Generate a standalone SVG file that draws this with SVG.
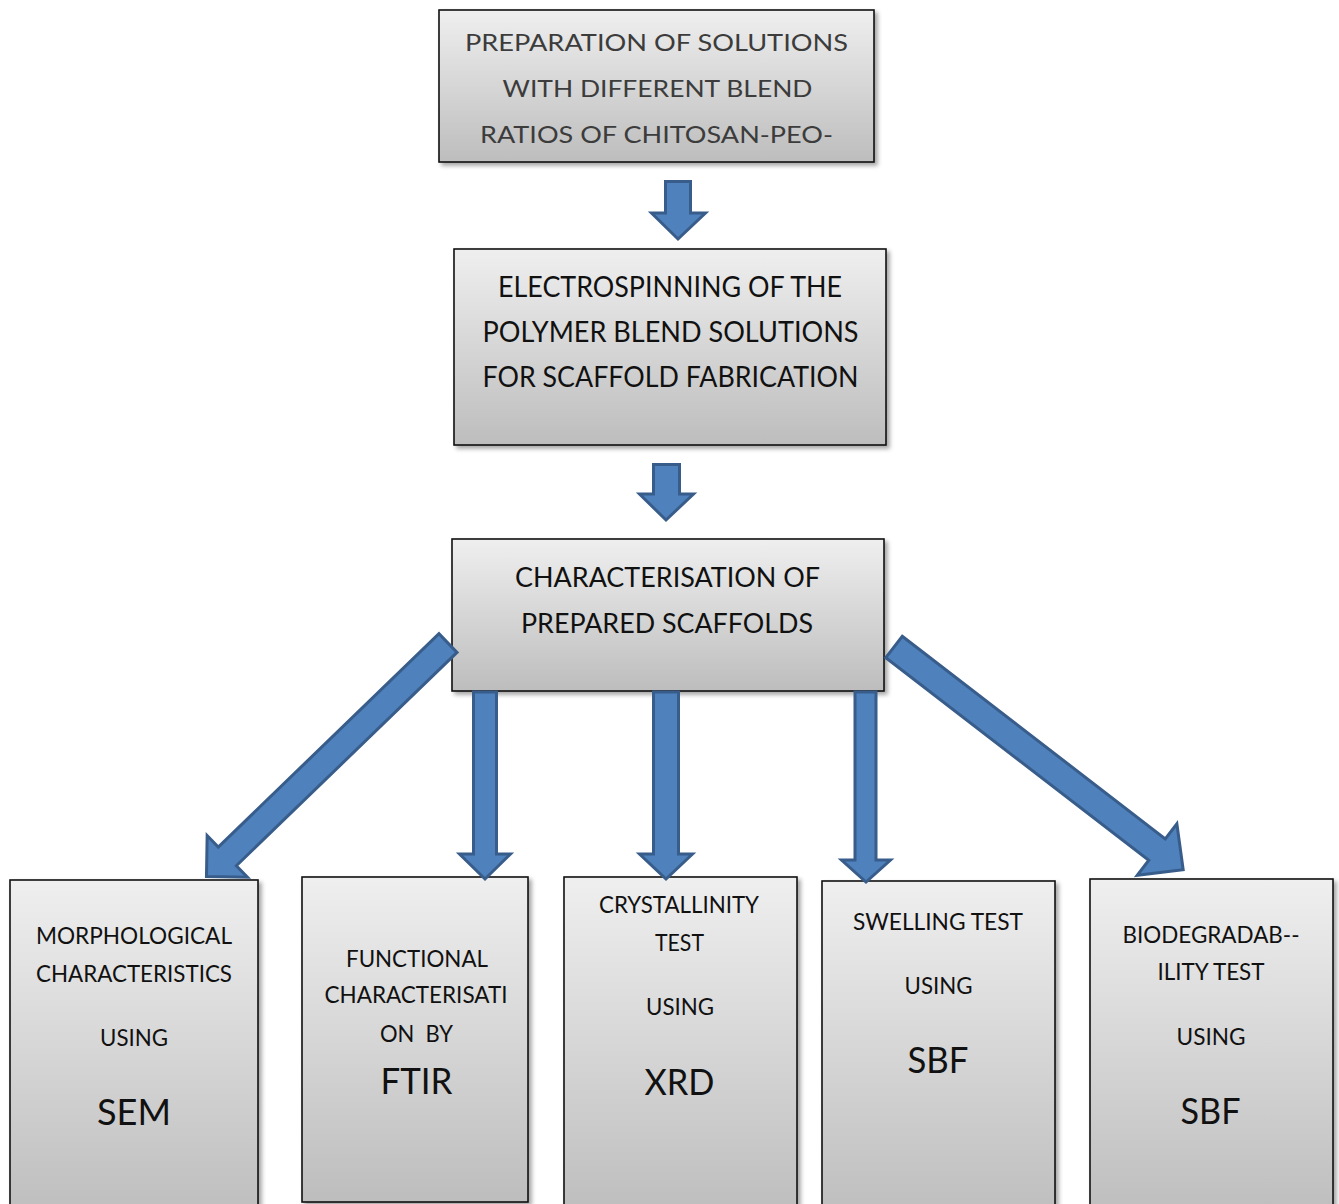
<svg xmlns="http://www.w3.org/2000/svg" width="1339" height="1204" viewBox="0 0 1339 1204">
  <defs>
    <linearGradient id="g" x1="0" y1="0" x2="0" y2="1">
      <stop offset="0" stop-color="#efefef"/>
      <stop offset="1" stop-color="#bdbdbd"/>
    </linearGradient>
    <filter id="sh" x="-10%" y="-10%" width="125%" height="125%">
      <feDropShadow dx="3" dy="3" stdDeviation="2" flood-color="#000" flood-opacity="0.35"/>
    </filter>
    <style>
      .box { fill: url(#g); stroke: #111; stroke-width: 1.6; filter: url(#sh); }
      .arr { fill: #4f81bd; stroke: #385d8a; stroke-width: 3; stroke-linejoin: miter; }
      text { font-family: Lato, "Open Sans", "Liberation Sans", sans-serif; fill: #111; text-anchor: middle; white-space: pre; }
      .t1 { font-size: 24px; fill: #3c3c3c; }
      .t2 { font-size: 28px; }
      .t3 { font-size: 27px; }
      .s { font-size: 23px; }
      .b { font-size: 37px; }
    </style>
  </defs>

  <g id="n1">
    <rect class="box" x="439" y="10" width="435" height="152"/>
    <text class="t1" x="656.5" y="51" textLength="383" lengthAdjust="spacingAndGlyphs">PREPARATION OF SOLUTIONS</text>
    <text class="t1" x="657.5" y="97" textLength="310" lengthAdjust="spacingAndGlyphs">WITH DIFFERENT BLEND</text>
    <text class="t1" x="656.5" y="143" textLength="353" lengthAdjust="spacingAndGlyphs">RATIOS OF CHITOSAN-PEO-</text>
  </g>

  <g id="n2">
    <rect class="box" x="454" y="249" width="432" height="196"/>
    <text class="t2" x="670" y="297" textLength="344" lengthAdjust="spacingAndGlyphs">ELECTROSPINNING OF THE</text>
    <text class="t2" x="670.5" y="342" textLength="376" lengthAdjust="spacingAndGlyphs">POLYMER BLEND SOLUTIONS</text>
    <text class="t2" x="670.5" y="387" textLength="376" lengthAdjust="spacingAndGlyphs">FOR SCAFFOLD FABRICATION</text>
  </g>

  <g id="n3">
    <rect class="box" x="452" y="539" width="432" height="152"/>
    <text class="t3" x="667.5" y="587" textLength="305" lengthAdjust="spacingAndGlyphs">CHARACTERISATION OF</text>
    <text class="t3" x="667" y="633" textLength="292" lengthAdjust="spacingAndGlyphs">PREPARED SCAFFOLDS</text>
  </g>

  <g id="n4">
    <rect class="box" x="10" y="880" width="248" height="340"/>
    <text class="s" x="134" y="944" textLength="196" lengthAdjust="spacingAndGlyphs">MORPHOLOGICAL</text>
    <text class="s" x="134" y="982" textLength="196" lengthAdjust="spacingAndGlyphs">CHARACTERISTICS</text>
    <text class="s" x="134" y="1046" textLength="68" lengthAdjust="spacingAndGlyphs">USING</text>
    <text class="b" x="134" y="1125" textLength="74" lengthAdjust="spacingAndGlyphs">SEM</text>
  </g>

  <g id="n5">
    <rect class="box" x="302" y="877" width="226" height="325"/>
    <text class="s" x="417" y="967" textLength="142" lengthAdjust="spacingAndGlyphs">FUNCTIONAL</text>
    <text class="s" x="416" y="1003" textLength="183" lengthAdjust="spacingAndGlyphs">CHARACTERISATI</text>
    <text class="s" x="416.5" y="1042" textLength="73" lengthAdjust="spacingAndGlyphs">ON  BY</text>
    <text class="b" x="416.5" y="1094" textLength="72" lengthAdjust="spacingAndGlyphs">FTIR</text>
  </g>

  <g id="n6">
    <rect class="box" x="564" y="877" width="233" height="340"/>
    <text class="s" x="679" y="913" textLength="160" lengthAdjust="spacingAndGlyphs">CRYSTALLINITY</text>
    <text class="s" x="679.5" y="951" textLength="49" lengthAdjust="spacingAndGlyphs">TEST</text>
    <text class="s" x="680" y="1015" textLength="68" lengthAdjust="spacingAndGlyphs">USING</text>
    <text class="b" x="679.5" y="1095" textLength="70" lengthAdjust="spacingAndGlyphs">XRD</text>
  </g>

  <g id="n7">
    <rect class="box" x="822" y="881" width="233" height="340"/>
    <text class="s" x="938" y="930" textLength="170" lengthAdjust="spacingAndGlyphs">SWELLING TEST</text>
    <text class="s" x="938.5" y="994" textLength="68" lengthAdjust="spacingAndGlyphs">USING</text>
    <text class="b" x="938" y="1073" textLength="61" lengthAdjust="spacingAndGlyphs">SBF</text>
  </g>

  <g id="n8">
    <rect class="box" x="1090" y="879" width="243" height="340"/>
    <text class="s" x="1211" y="943" textLength="177" lengthAdjust="spacingAndGlyphs">BIODEGRADAB--</text>
    <text class="s" x="1211" y="980" textLength="107" lengthAdjust="spacingAndGlyphs">ILITY TEST</text>
    <text class="s" x="1211" y="1045" textLength="69" lengthAdjust="spacingAndGlyphs">USING</text>
    <text class="b" x="1210.5" y="1124" textLength="60" lengthAdjust="spacingAndGlyphs">SBF</text>
  </g>

  <g id="connectors">
    <polygon class="arr" points="665.5,181.5 690.5,181.5 690.5,213 705.5,213 678,239 651.5,213 665.5,213"/>
    <polygon class="arr" points="653.5,464.5 679.5,464.5 679.5,494 693.5,494 666,520 639.5,494 653.5,494"/>
    <polygon class="arr" points="473.5,692 496.5,692 496.5,854 510.5,854 485,879 459.5,854 473.5,854"/>
    <polygon class="arr" points="653.5,692 678.5,692 678.5,854 692.5,854 666,879 639.5,854 653.5,854"/>
    <polygon class="arr" points="855,692 876,692 876,860 890.5,860 866,882 841.5,860 855,860"/>
    <g transform="translate(448,643) rotate(135.96)">
      <polygon class="arr" points="0,-13 307,-13 307,-29 336,0 307,29 307,13 0,13"/>
    </g>
    <g transform="translate(894,647) rotate(37.6)">
      <polygon class="arr" points="0,-13.5 332,-13.5 332,-32.5 365,0 332,32.5 332,13.5 0,13.5"/>
    </g>
  </g>
</svg>
